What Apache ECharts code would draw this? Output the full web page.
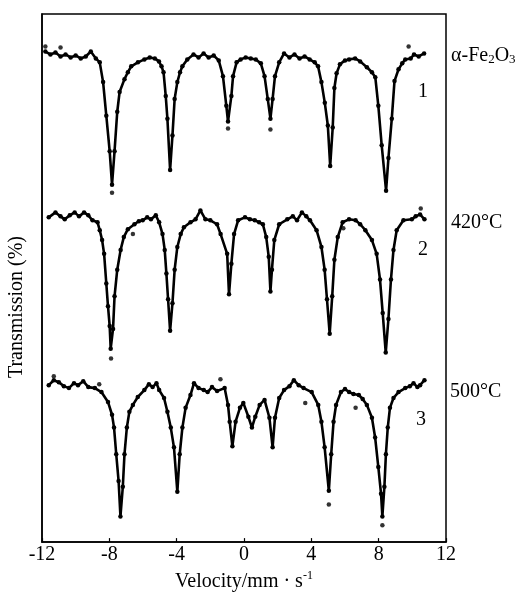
<!DOCTYPE html>
<html><head><meta charset="utf-8">
<script src="https://cdn.jsdelivr.net/npm/echarts@6/dist/echarts.min.js"></script>
<style>html,body{margin:0;padding:0;background:#fff}#c{width:522px;height:597px}</style>
</head><body><div id="c"></div>
<script>
// x: velocity (mm/s), y: transmission (arbitrary offset units)
var xTicks = [-12, -8, -4, 0, 4, 8, 12];
var spectrumLabels = ['α-Fe{sub|2}O{sub|3}', '420°C', '500°C'];
var spectrumNumbers = ['1', '2', '3'];

var spec1 = [[-11.8,497],[-11.5,494],[-11.2,496],[-10.9,492],[-10.6,494],[-10.3,491],[-10.0,493],[-9.7,490],[-9.4,492],[-9.1,497],[-8.8,490],[-8.57,486],[-8.37,466],[-8.18,432],[-7.98,396],[-7.84,362],[-7.69,396],[-7.53,436],[-7.39,456],[-7.1,469],[-6.9,476],[-6.7,482],[-6.3,486],[-5.92,489],[-5.6,491],[-5.3,490],[-5.05,487],[-4.9,482],[-4.78,476],[-4.65,452],[-4.55,429],[-4.39,377],[-4.25,412],[-4.12,449],[-3.96,466],[-3.8,476],[-3.66,482],[-3.37,489],[-3.0,494],[-2.7,491],[-2.4,495],[-2.1,491],[-1.8,493],[-1.5,488],[-1.25,472],[-1.05,442],[-0.95,426],[-0.75,452],[-0.65,472],[-0.44,486],[-0.2,489],[0.1,491],[0.4,490],[0.7,489],[1.0,485],[1.22,472],[1.41,449],[1.57,429],[1.7,449],[1.84,472],[2.09,486],[2.38,495],[2.7,491],[3.0,494],[3.3,490],[3.6,492],[3.9,489],[4.2,486],[4.4,482],[4.6,466],[4.8,445],[4.98,422],[5.12,381],[5.27,420],[5.37,460],[5.5,475],[5.7,484],[6.0,488],[6.24,489],[6.6,490],[6.9,487],[7.3,481],[7.6,476],[7.8,471],[7.98,442],[8.18,402],[8.44,356],[8.58,389],[8.78,429],[8.94,467],[9.18,479],[9.4,485],[9.58,489],[9.9,490],[10.1,494],[10.38,492],[10.7,495]];
var stray1 = [[-7.84,354],[-0.95,419],[1.57,418],[9.78,502],[-11.8,502],[-10.9,501]];

var spec2 = [[-11.6,329],[-11.2,334],[-10.9,330],[-10.65,327],[-10.35,331],[-10.06,334],[-9.8,330],[-9.5,334],[-9.25,331],[-9.0,326],[-8.7,324],[-8.57,316],[-8.43,306],[-8.31,292],[-8.18,262],[-8.08,239],[-7.98,219],[-7.92,196],[-7.78,216],[-7.69,249],[-7.53,276],[-7.33,296],[-7.14,309],[-6.9,317],[-6.51,322],[-6.25,325],[-6.02,326],[-5.75,329],[-5.53,327],[-5.24,331],[-5.04,324],[-4.84,312],[-4.71,296],[-4.61,272],[-4.51,246],[-4.39,214],[-4.25,242],[-4.12,276],[-3.96,299],[-3.76,312],[-3.57,319],[-3.18,324],[-2.88,327],[-2.59,336],[-2.29,327],[-2.0,326],[-1.6,322],[-1.39,312],[-1.0,292],[-0.89,251],[-0.75,282],[-0.59,312],[-0.35,326],[0.06,329],[0.35,327],[0.64,326],[0.9,324],[1.12,322],[1.32,309],[1.47,289],[1.57,254],[1.66,276],[1.8,306],[2.09,322],[2.57,327],[2.9,330],[3.15,326],[3.44,334],[3.7,330],[3.92,326],[4.31,316],[4.6,299],[4.79,276],[4.93,246],[5.09,211],[5.24,249],[5.37,286],[5.57,309],[5.86,324],[6.24,327],[6.63,326],[6.9,322],[7.21,316],[7.6,306],[7.88,292],[8.08,266],[8.24,232],[8.42,192],[8.58,226],[8.73,266],[8.88,296],[9.07,316],[9.47,326],[9.97,327],[10.2,330],[10.46,332],[10.72,327]];
var stray2 = [[-7.9,186],[-6.6,312],[5.9,318],[10.5,338]];

var spec3 = [[-11.6,159],[-11.3,164],[-11.0,162],[-10.7,158],[-10.4,156],[-10.1,161],[-9.86,159],[-9.55,163],[-9.25,157],[-8.86,156],[-8.47,152],[-8.08,142],[-7.84,129],[-7.72,116],[-7.59,89],[-7.45,62],[-7.34,26],[-7.2,56],[-7.1,89],[-6.96,116],[-6.81,132],[-6.6,139],[-6.31,147],[-5.92,154],[-5.65,160],[-5.43,157],[-5.2,161],[-5.04,154],[-4.75,146],[-4.55,132],[-4.35,116],[-4.16,96],[-3.96,51],[-3.82,89],[-3.66,116],[-3.47,136],[-3.18,149],[-2.97,161],[-2.7,156],[-2.39,154],[-2.16,152],[-1.9,157],[-1.6,153],[-1.15,156],[-0.95,139],[-0.85,122],[-0.69,97],[-0.5,122],[-0.24,136],[-0.04,141],[0.26,127],[0.47,116],[0.67,127],[0.93,139],[1.22,144],[1.51,126],[1.7,96],[1.84,126],[2.09,146],[2.38,154],[2.7,158],[2.96,164],[3.25,159],[3.54,156],[4.02,152],[4.41,139],[4.6,122],[4.79,96],[5.04,52],[5.18,89],[5.32,122],[5.47,139],[5.76,152],[6.0,155],[6.24,152],[6.5,150],[6.82,149],[7.05,145],[7.3,139],[7.6,126],[7.79,106],[7.98,76],[8.14,49],[8.22,26],[8.34,56],[8.43,89],[8.54,116],[8.67,136],[8.88,146],[9.18,152],[9.58,156],[9.85,158],[10.07,161],[10.3,157],[10.46,159],[10.72,164]];
var stray3 = [[5.04,38],[8.22,17],[3.64,141],[6.63,136],[-11.3,168],[-8.6,160],[-1.4,165]];

var FONT = '"Liberation Serif", "DejaVu Serif", serif';
var chart = echarts.init(document.getElementById('c'), null, {renderer: 'canvas'});

function lineSeries(d) {
  return {type: 'line', data: d, showSymbol: true, symbol: 'circle', symbolSize: 4.5,
    lineStyle: {color: '#000', width: 2.6}, itemStyle: {color: '#000'}, animation: false, silent: true};
}
function straySeries(d) {
  return {type: 'scatter', data: d, symbol: 'circle', symbolSize: 4.5, itemStyle: {color: '#000'}, animation: false, silent: true};
}

chart.setOption({
  backgroundColor: '#fff',
  grid: {left: 42, right: 76, top: 14, bottom: 48, show: true, borderColor: '#000', borderWidth: 1.5, backgroundColor: 'transparent'},
  xAxis: {
    type: 'value', min: -12, max: 12, interval: 4,
    axisLine: {show: true, onZero: false, lineStyle: {color: '#000', width: 1.5}},
    axisTick: {show: true, inside: true, length: 4, lineStyle: {color: '#000', width: 1.2}},
    axisLabel: {color: '#000', fontFamily: FONT, fontSize: 20, margin: 3,
      customValues: xTicks},
    splitLine: {show: false},
    name: 'Velocity/mm · s{sup|-1}', nameLocation: 'middle', nameGap: 23,
    nameTextStyle: {color: '#000', fontFamily: FONT, fontSize: 20,
      rich: {sup: {fontFamily: FONT, fontSize: 12, verticalAlign: 'top', padding: [0,0,12,0], color: '#000'}}}
  },
  yAxis: {
    type: 'value', min: 0, max: 535,
    axisLine: {show: true, onZero: false, lineStyle: {color: '#000', width: 1.5}},
    axisTick: {show: false}, axisLabel: {show: false}, splitLine: {show: false}
  },
  series: [lineSeries(spec1), lineSeries(spec2), lineSeries(spec3),
           straySeries(stray1), straySeries(stray2), straySeries(stray3)],
  graphic: [
    {type: 'text', left: 7, top: 236, rotation: Math.PI / 2, originX: 0, originY: 0,
      style: {text: 'Transmission (%)', font: '20px ' + FONT, fill: '#000'}},
    {type: 'text', x: 451, y: 56, style: {text: spectrumLabels[0], font: '20px ' + FONT, fill: '#000', verticalAlign: 'middle',
      rich: {sub: {font: '13px ' + FONT, fill: '#000', padding: [8,0,0,0]}}}},
    {type: 'text', x: 451, y: 223, style: {text: spectrumLabels[1], font: '20px ' + FONT, fill: '#000', verticalAlign: 'middle'}},
    {type: 'text', x: 450, y: 392, style: {text: spectrumLabels[2], font: '20px ' + FONT, fill: '#000', verticalAlign: 'middle'}},
    {type: 'text', x: 418, y: 92, style: {text: spectrumNumbers[0], font: '20px ' + FONT, fill: '#000', verticalAlign: 'middle'}},
    {type: 'text', x: 418, y: 250, style: {text: spectrumNumbers[1], font: '20px ' + FONT, fill: '#000', verticalAlign: 'middle'}},
    {type: 'text', x: 416, y: 420, style: {text: spectrumNumbers[2], font: '20px ' + FONT, fill: '#000', verticalAlign: 'middle'}}
  ]
});
</script></body></html>
